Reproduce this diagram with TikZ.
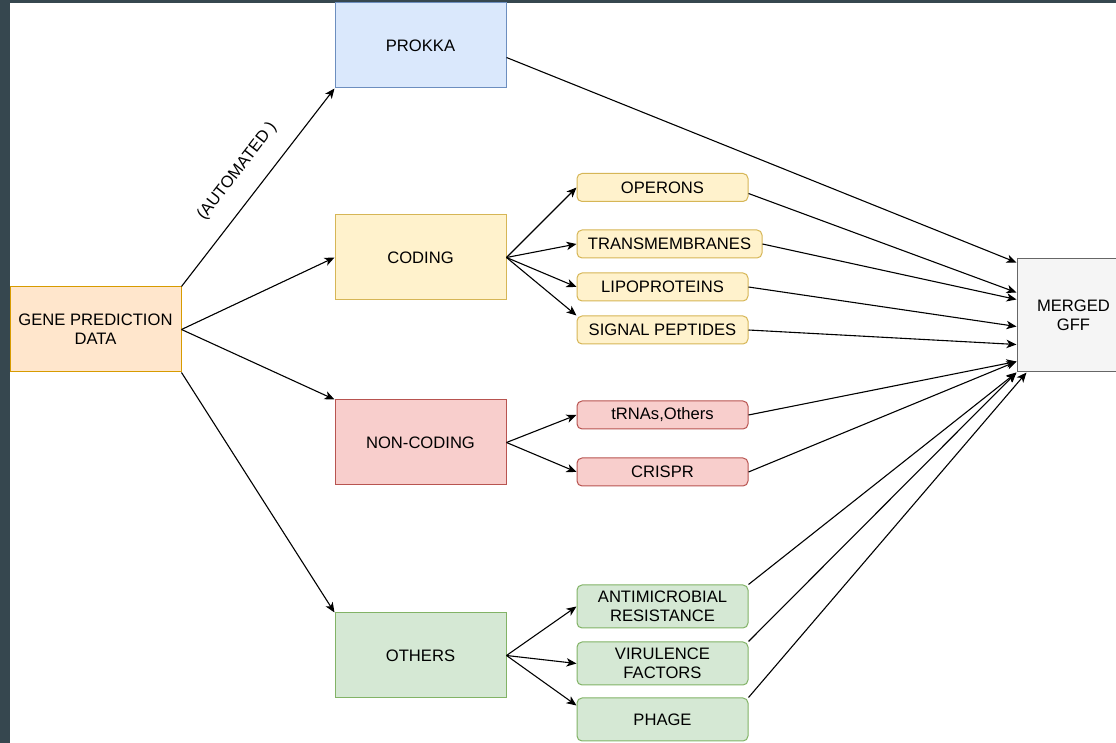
\documentclass[tikz,border=0pt]{standalone}
\usepackage{fontspec}
\setmainfont{Liberation Sans}
\usetikzlibrary{arrows.meta,calc}
\definecolor{frameclr}{RGB}{54,71,79}
\definecolor{orfill}{HTML}{FFE6CC}\definecolor{ordraw}{HTML}{D79B00}
\definecolor{blfill}{HTML}{DAE8FC}\definecolor{bldraw}{HTML}{6C8EBF}
\definecolor{yefill}{HTML}{FFF2CC}\definecolor{yedraw}{HTML}{D6B656}
\definecolor{refill}{HTML}{F8CECC}\definecolor{redraw}{HTML}{B85450}
\definecolor{grfill}{HTML}{D5E8D4}\definecolor{grdraw}{HTML}{82B366}
\definecolor{gyfill}{HTML}{F5F5F5}\definecolor{gydraw}{HTML}{666666}
\tikzset{
  bigbox/.style={draw, rectangle, minimum width=85.5pt, minimum height=42.5pt, inner sep=0pt, align=center, line width=0.5pt},
  smallbox/.style={draw, rectangle, rounded corners=2.5pt, minimum width=85.5pt, minimum height=14pt, inner sep=0pt, align=center, line width=0.5pt},
  tallbox/.style={smallbox, minimum height=21.5pt},
  orangebox/.style={fill=orfill, draw=ordraw},
  bluebox/.style={fill=blfill, draw=bldraw},
  yellowbox/.style={fill=yefill, draw=yedraw},
  redbox/.style={fill=refill, draw=redraw},
  greenbox/.style={fill=grfill, draw=grdraw},
  graybox/.style={fill=gyfill, draw=gydraw},
  conn/.style={-{Stealth[length=5pt,width=4.2pt,inset=1.4pt]}, line width=0.55pt, black},
}
\begin{document}
\begin{tikzpicture}[x=0.5pt,y=-0.5pt, font=\fontsize{8.3}{9.5}\selectfont]
\useasboundingbox (0,0) rectangle (1116,743);
\fill[white] (0,0) rectangle (1116,743);
\fill[frameclr] (0,0) rectangle (10,743);
\fill[frameclr] (0,0) rectangle (1116,3);

% big boxes
\node[bigbox, orangebox] (gene) at (95.5,329.5) {GENE PREDICTION\\DATA};
\node[bigbox, bluebox] (prokka) at (420.5,45.5) {PROKKA};
\node[bigbox, yellowbox] (coding) at (420.5,257.5) {CODING};
\node[bigbox, redbox] (noncoding) at (420.5,442.5) {NON-CODING};
\node[bigbox, greenbox] (others) at (420.5,655.5) {OTHERS};
\node[bigbox, graybox, minimum width=56.5pt, minimum height=56.5pt] (merged) at (1073.5,315.5) {MERGED\\GFF};

% small boxes
\node[smallbox, yellowbox] (operons) at (662.5,187.5) {OPERONS};
\node[smallbox, yellowbox, minimum width=92.5pt] (trans) at (669.5,244) {TRANSMEMBRANES};
\node[smallbox, yellowbox] (lipo) at (662.5,287) {LIPOPROTEINS};
\node[smallbox, yellowbox] (signal) at (662.5,330) {SIGNAL PEPTIDES};
\node[smallbox, redbox] (trna) at (662.5,415) {tRNAs,Others};
\node[smallbox, redbox] (crispr) at (662.5,472) {CRISPR};
\node[tallbox, greenbox] (amr) at (662.5,606.5) {ANTIMICROBIAL\\RESISTANCE};
\node[tallbox, greenbox] (vir) at (662.5,663.5) {VIRULENCE\\FACTORS};
\node[tallbox, greenbox] (phage) at (662.5,719.5) {PHAGE};

% connectors from gene
\draw[conn] (gene.north east) -- node[midway, sloped, above=9pt, inner sep=0pt] {(AUTOMATED )} (prokka.south west);
\draw[conn] (gene.east) -- (coding.west);
\draw[conn] (gene.east) -- (noncoding.north west);
\draw[conn] (gene.south east) -- (others.north west);

% coding
\draw[conn] (coding.east) -- (operons.west);
\draw[conn] (coding.east) -- (trans.west);
\draw[conn] (coding.east) -- (lipo.west);
\draw[conn] (coding.east) -- (signal.north west);

% non-coding
\draw[conn] (noncoding.east) -- (trna.west);
\draw[conn] (noncoding.east) -- (crispr.west);

% others
\draw[conn] (others.east) -- (amr.west);
\draw[conn] (others.east) -- (vir.west);
\draw[conn] (others.east) -- ($(phage.north west)+(0,8)$);

% into merged
\draw[conn] ($(prokka.east)+(0,12)$) -- ($(merged.north west)+(0,4)$);
\draw[conn] ($(operons.east)+(0,6)$) -- ($(merged.north west)+(0,34)$);
\draw[conn] (trans.east) -- ($(merged.north west)+(0,41)$);
\draw[conn] (lipo.east) -- ($(merged.north west)+(0,68)$);
\draw[conn] (signal.east) -- ($(merged.north west)+(0,86)$);
\draw[conn] (trna.east) -- ($(merged.north west)+(0,103)$);
\draw[conn] (crispr.east) -- ($(merged.north west)+(0,103)$);
\draw[conn] (amr.north east) -- (merged.south west);
\draw[conn] (vir.north east) -- (merged.south west);
\draw[conn] (phage.north east) -- ($(merged.south west)+(10,0)$);
\end{tikzpicture}
\end{document}
